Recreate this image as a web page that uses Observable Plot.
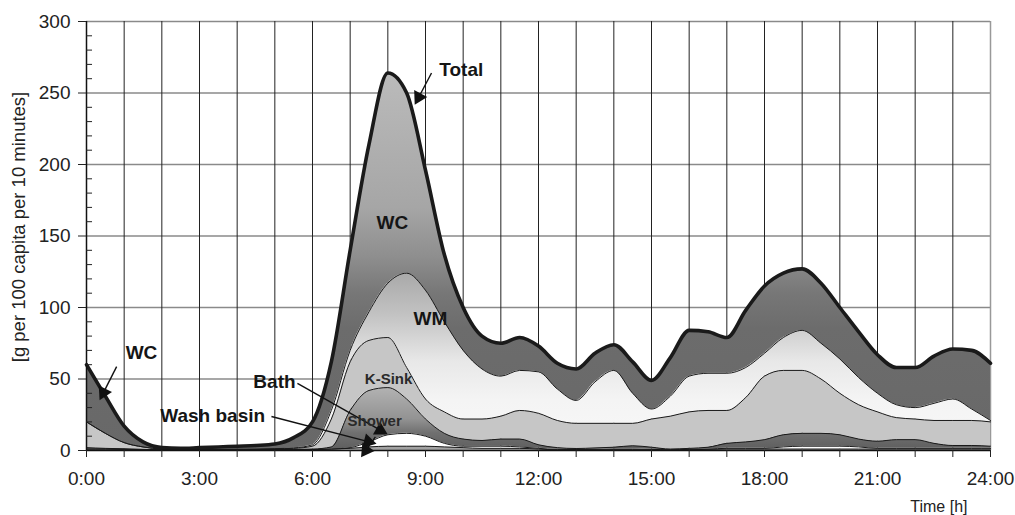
<!DOCTYPE html>
<html><head><meta charset="utf-8">
<script src="https://cdn.jsdelivr.net/npm/d3@7"></script>
<script src="https://cdn.jsdelivr.net/npm/@observablehq/plot@0.6"></script>
<style>html,body{margin:0;padding:0;background:#fff;} svg{display:block}</style>
</head><body><div id="chart"></div>
<script>
// time of day in hours (30-minute steps)
const hours = [0,0.5,1,1.5,2,2.5,3,3.5,4,4.5,5,5.5,6,6.5,7,7.5,8,8.5,9,9.5,10,10.5,11,11.5,12,12.5,13,13.5,14,14.5,15,15.5,16,16.5,17,17.5,18,18.5,19,19.5,20,20.5,21,21.5,22,22.5,23,23.5,24];

// stacking order, bottom to top
const seriesNames = ["Wash basin","Bath","Shower","K-Sink","WM","WC"];

// layer thickness, g per 100 capita per 10 minutes
const washBasin = [1,1,0.8,0.5,0.3,0.3,0.3,0.3,0.3,0.4,0.4,0.5,0.6,1,1.5,2.5,3,3,3,2.5,2,1.5,1.5,1.5,1,0.5,0.5,0.5,0.6,0.6,0.5,0.3,0.5,0.8,1,1,1,1,1,1,1,1,1,1,1,1,1,1,1];
const bath = [0,0,0,0,0,0,0,0,0,0,0,0,0,0,0.5,3.5,8,9,7,2.5,1,1.5,1.5,1,0.5,0.3,0.2,0.3,0.4,0.4,0.3,0.2,0.3,0.2,0.5,0.5,0.5,1.5,2,2,2,1.5,0.5,0.5,0.5,0.5,0.5,0.5,0.5];
const shower = [1,0.5,0.4,0.3,0.2,0.1,0.1,0.2,0.2,0.2,0.3,0.3,0.4,1.5,26,36,33,24,12,7,5,4,5,5.5,2.5,1.2,0.7,1,1.3,2.3,1.5,0.5,0.7,1.3,3.5,4.5,6.1,8.5,9,9,8,5.5,5,6.1,6.1,3.5,2,2,1.5];
const kSink = [18,10.5,4.3,1.7,0.5,0.2,0.2,0.3,0.4,0.4,0.5,0.7,2,19.5,34,35,35,22,14,15,14,15,16,20,22,19,17.6,17.2,16.7,15.7,19.7,23,25.5,25.7,23,31,44.4,45,44,38,29,24,20.5,15.4,14.4,16,17.5,17.5,17];
const wm = [0,0,0,0,0,0,0,0,0,0,0.1,0.3,1,6,8,20,38,66,76,63,48,35,28,28,29,22,16,29,37,21,7,14,25,26,26,21,16,23,28,25,24,19,13,9,8,12,15,8,1];
const wc = [40,26,11.5,3.5,1,0.9,1.4,1.7,2.1,2.5,3.2,7.2,16,34,70,117,147,126,84,47,30,23,23,23,18,18,22,20,18,22,20,27,32,29,25,40,47,45,43,42,36,32,27,26,28,33,35,41,40];

const yTicks = [0,50,100,150,200,250,300];
const xTicks = [0,1,2,3,4,5,6,7,8,9,10,11,12,13,14,15,16,17,18,19,20,21,22,23,24];

const seriesArrays = [washBasin, bath, shower, kSink, wm, wc];
const data = [];
seriesNames.forEach((s, k) => hours.forEach((t, i) => data.push({series: s, t, v: seriesArrays[k][i]})));

// annotations (data coordinates)
const boldLabels = [
  {text: "Total", t: 9.95, v: 266},
  {text: "WC", t: 8.12, v: 159},
  {text: "WM", t: 9.13, v: 92},
  {text: "Bath", t: 4.99, v: 48},
  {text: "Wash basin", t: 3.35, v: 24.5},
  {text: "WC", t: 1.46, v: 68.5}
];
const smallLabels = [
  {text: "K-Sink", t: 8.02, v: 49.7},
  {text: "Shower", t: 7.65, v: 20.3}
];
const arrows = [
  {x1: 9.16, y1: 264, x2: 8.82, y2: 247},
  {x1: 0.80, y1: 58.7, x2: 0.45, y2: 40.5},
  {x1: 5.60, y1: 46.9, x2: 7.80, y2: 14.2},
  {x1: 4.91, y1: 23.8, x2: 7.48, y2: 6.2},
  {x1: 7.67, y1: 9.5, x2: 7.42, y2: 0.2}
];

const W = 1015, H = 515, mL = 86, mR = 25, mT = 21, mB = 65;
const kx = (W - mL - mR) / 24, ky = (H - mT - mB) / 300;
const arrowAngle = d => Math.atan2((d.x2 - d.x1) * kx, (d.y2 - d.y1) * ky) * 180 / Math.PI;

const minorTicks = d3.range(10, 300, 10).filter(v => v % 50 !== 0);

const chart = Plot.plot({
  width: W, height: H,
  marginLeft: mL, marginRight: mR, marginTop: mT, marginBottom: mB,
  style: {fontFamily: "'Liberation Sans', Arial, sans-serif", fontSize: "19px", color: "#222", background: "#fff"},
  x: {domain: [0, 24]},
  y: {domain: [0, 300]},
  color: {domain: seriesNames, range: ["#a2a2a2", "#ffffff", "url(#gShower)", "#c6c6c6", "url(#gWM)", "url(#gWC)"]},
  marks: [
    Plot.ruleY(yTicks.filter(v => v > 0), {stroke: "#8a8a8a", strokeWidth: 1.5}),
    Plot.ruleX(xTicks.filter(v => v > 0 && v < 24), {stroke: "#222", strokeWidth: 1}),
    Plot.ruleX([24], {stroke: "#999", strokeWidth: 1.5}),
    Plot.areaY(data, Plot.stackY({x: "t", y: "v", z: "series", fill: "series", order: seriesNames, curve: "monotone-x"})),
    Plot.lineY(data, Plot.stackY2({x: "t", y: "v", z: "series", order: seriesNames, curve: "monotone-x",
      stroke: "#1a1a1a", strokeWidth: d => d.series === "WC" ? 3.6 : 1})),
    Plot.ruleX([0], {stroke: "#111", strokeWidth: 1.5}),
    Plot.ruleY([0], {stroke: "#111", strokeWidth: 1.5}),
    Plot.ruleY(minorTicks, {x1: 0, x2: 0.16, stroke: "#222"}),
    Plot.axisX({ticks: xTicks, tickSize: 7, tickPadding: 14, tickFormat: d => d % 3 === 0 ? d + ":00" : "", label: null}),
    Plot.axisY({ticks: yTicks, tickSize: 8, tickPadding: 8, label: null}),
    Plot.text(["[g per 100 capita per 10 minutes]"], {frameAnchor: "left", rotate: -90, dx: -67, dy: -9,
      textAnchor: "middle", lineAnchor: "middle", fontSize: 18.5, fill: "#222"}),
    Plot.text(["Time [h]"], {frameAnchor: "bottom-right", dx: -23, dy: 56, textAnchor: "end", lineAnchor: "middle", fontSize: 16, fill: "#222"}),
    Plot.link(arrows, {x1: "x1", y1: "y1", x2: "x2", y2: "y2", stroke: "#111", strokeWidth: 1.4}),
    Plot.dot(arrows, {x: "x2", y: "y2", symbol: "triangle", r: 5.5, fill: "#111", stroke: "none", rotate: arrowAngle}),
    Plot.text(boldLabels, {x: "t", y: "v", text: "text", fontSize: 19, fontWeight: "bold", fill: "#151515"}),
    Plot.text(smallLabels, {x: "t", y: "v", text: "text", fontSize: 15, fontWeight: "bold", fill: "#2a2a2a", letterSpacing: "1.5px"})
  ]
});

// gradient fills defined in value space
const ys = chart.scale("y");
const defs = d3.select(chart).insert("defs", ":first-child");
function grad(id, stops) {
  const g = defs.append("linearGradient").attr("id", id).attr("gradientUnits", "userSpaceOnUse")
    .attr("x1", 0).attr("x2", 0).attr("y1", ys.apply(300)).attr("y2", ys.apply(0));
  for (const [v, c] of stops) g.append("stop").attr("offset", (300 - v) / 300).attr("stop-color", c);
}
grad("gWC", [[270, "#bcbcbc"], [170, "#a6a6a6"], [135, "#8e8e8e"], [110, "#777777"], [85, "#6c6c6c"], [0, "#686868"]]);
grad("gWM", [[125, "#a8a8a8"], [95, "#c2c2c2"], [62, "#e8e8e8"], [35, "#f4f4f4"], [0, "#f8f8f8"]]);
grad("gShower", [[45, "#b4b4b4"], [22, "#939393"], [12, "#707070"], [0, "#5e5e5e"]]);

document.getElementById("chart").appendChild(chart);
</script>
</body></html>
